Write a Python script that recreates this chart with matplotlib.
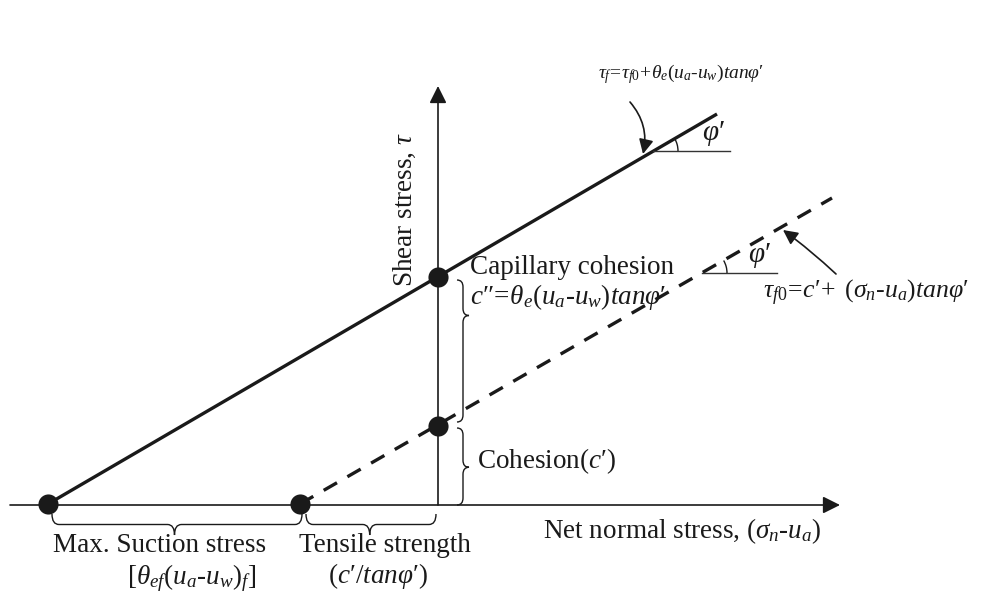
"""Mohr-Coulomb envelope for unsaturated soil: suction stress and tensile strength."""

import matplotlib
matplotlib.use("Agg")
import matplotlib.pyplot as plt
from matplotlib.path import Path
from matplotlib.patches import PathPatch, Arc

# key points of the diagram, in pixel units (x right, y down)
ORIGIN = (438, 505)
X_AXIS_START = 10
X_AXIS_END = 840
Y_AXIS_END = 86
MAX_SUCTION = (48, 504)
TENSILE = (300, 504)
CAP_COHESION = (438, 277)
COHESION = (438, 426)
SOLID_END = (717, 114)
DASHED_END = (832, 198)
ANGLE_SOLID_Y = 151
ANGLE_DASHED_Y = 273

INK = "#1a1a1a"
H = r"\text{-}"  # hyphen inside mathtext

plt.rcParams.update({
    "font.family": "Liberation Serif",
    "mathtext.fontset": "custom",
    "mathtext.rm": "Liberation Serif",
    "mathtext.it": "Liberation Serif:italic",
    "mathtext.bf": "Liberation Serif:bold",
})


def brace(ax, p0, p1, tip_frac, depth, side, curl=7, lw=1.0):
    (x0, y0), (x1, y1) = p0, p1
    L = ((x1 - x0) ** 2 + (y1 - y0) ** 2) ** 0.5
    ux, uy = (x1 - x0) / L, (y1 - y0) / L
    vx, vy = side
    t = tip_frac * L
    h = depth / 2.0
    a = curl
    local = [(0, 0), (0, h), (a, h), (t - a, h), (t, h), (t, depth),
             (t, h), (t + a, h), (L - a, h), (L, h), (L, 0)]
    codes = [Path.MOVETO, Path.CURVE3, Path.CURVE3, Path.LINETO,
             Path.CURVE3, Path.CURVE3, Path.CURVE3, Path.CURVE3,
             Path.LINETO, Path.CURVE3, Path.CURVE3]
    pts = [(x0 + u * ux + v * vx, y0 + u * uy + v * vy) for u, v in local]
    ax.add_patch(PathPatch(Path(pts, codes), fill=False, lw=lw, color=INK))


def angle_mark(ax, vertex, length, slope_deg, label_xy):
    vx, vy = vertex
    ax.plot([vx, vx + length], [vy, vy], color="#333333", lw=1.0)
    ax.add_patch(Arc(vertex, 50, 50, theta1=-slope_deg, theta2=0,
                     color=INK, lw=1.0))
    ax.text(*label_xy, r"$\varphi′$", fontsize=21, ha="center", va="center",
            color=INK)


fig = plt.figure(figsize=(9.85, 5.95), dpi=100)
ax = fig.add_axes([0, 0, 1, 1])
ax.set_xlim(0, 985)
ax.set_ylim(595, 0)
ax.axis("off")

# axes with arrow heads
ax.annotate("", xy=(X_AXIS_END, ORIGIN[1]), xytext=(X_AXIS_START, ORIGIN[1]),
            arrowprops=dict(arrowstyle="-|>", color=INK, lw=1.2,
                            mutation_scale=26, shrinkA=0, shrinkB=0))
ax.annotate("", xy=(ORIGIN[0], Y_AXIS_END), xytext=ORIGIN,
            arrowprops=dict(arrowstyle="-|>", color=INK, lw=1.2,
                            mutation_scale=26, shrinkA=0, shrinkB=0))

# failure envelopes
ax.plot([MAX_SUCTION[0], SOLID_END[0]], [MAX_SUCTION[1], SOLID_END[1]],
        color=INK, lw=2.4, solid_capstyle="butt")
ax.plot([TENSILE[0], DASHED_END[0]], [TENSILE[1], DASHED_END[1]],
        color=INK, lw=2.4, linestyle=(0, (4.6, 3.6)), dash_capstyle="butt")

dots = [MAX_SUCTION, TENSILE, CAP_COHESION, COHESION]
ax.scatter([p[0] for p in dots], [p[1] for p in dots], s=210, color=INK,
           zorder=5, linewidths=0)

# friction angle marks
angle_mark(ax, (653, ANGLE_SOLID_Y), 77, 30, (714, 133))
angle_mark(ax, (702, ANGLE_DASHED_Y), 75, 30, (760, 256))

# braces
brace(ax, (52, 514), (302, 514), 0.49, 21, (0, 1))
brace(ax, (306, 514), (436, 514), 0.49, 21, (0, 1))
brace(ax, (457, 280), (457, 422), 0.25, 12, (1, 0))
brace(ax, (457, 428), (457, 505), 0.51, 12, (1, 0))

# labels
ax.text(405, 210, r"Shear stress, $\tau$", rotation=90, fontsize=19.5,
        ha="center", va="center", color=INK)
ax.text(543, 531, r"Net normal stress, $(\sigma_n" + H + r"u_a)$",
        fontsize=19.5, ha="left", va="center", color=INK)
ax.text(470, 268, "Capillary cohesion", fontsize=19.5, ha="left",
        va="center", color=INK)
ax.text(470, 297, r"$c″\!=\!\theta_e(u_a" + H + r"u_w)tan\varphi′$",
        fontsize=19.5, ha="left", va="center", color=INK)
ax.text(477, 461, r"Cohesion($c′$)", fontsize=19.5, ha="left", va="center",
        color=INK)
ax.text(160, 546, "Max. Suction stress", fontsize=19.5, ha="center",
        va="center", color=INK)
ax.text(192, 578, r"$[\theta_{ef}(u_a" + H + r"u_w)_f]$", fontsize=19.5,
        ha="center", va="center", color=INK)
ax.text(385, 546, "Tensile strength", fontsize=19.5, ha="center",
        va="center", color=INK)
ax.text(378, 576, r"$(c′/tan\varphi′)$", fontsize=19.5, ha="center",
        va="center", color=INK)

# envelope equations with pointers
ax.text(598, 74, r"$\tau_f\!=\!\tau_{f0}\!+\!\theta_e(u_a" + H
        + r"u_w)tan\varphi′$",
        fontsize=14, ha="left", va="center", color=INK)
ax.annotate("", xy=(643, 154), xytext=(630, 102),
            arrowprops=dict(arrowstyle="-|>", color=INK, lw=1.2,
                            mutation_scale=22, shrinkA=0, shrinkB=0,
                            connectionstyle="arc3,rad=-0.25"))
ax.text(763, 293, r"$\tau_{f0}\!=\!c′\!+\ (\sigma_n" + H
        + r"u_a)tan\varphi′$",
        fontsize=18.5, ha="left", va="center", color=INK)
ax.annotate("", xy=(783, 230), xytext=(836, 274),
            arrowprops=dict(arrowstyle="-|>", color=INK, lw=1.2,
                            mutation_scale=22, shrinkA=0, shrinkB=0,
                            connectionstyle="arc3,rad=0.03"))

fig.savefig("out.png", dpi=100)
